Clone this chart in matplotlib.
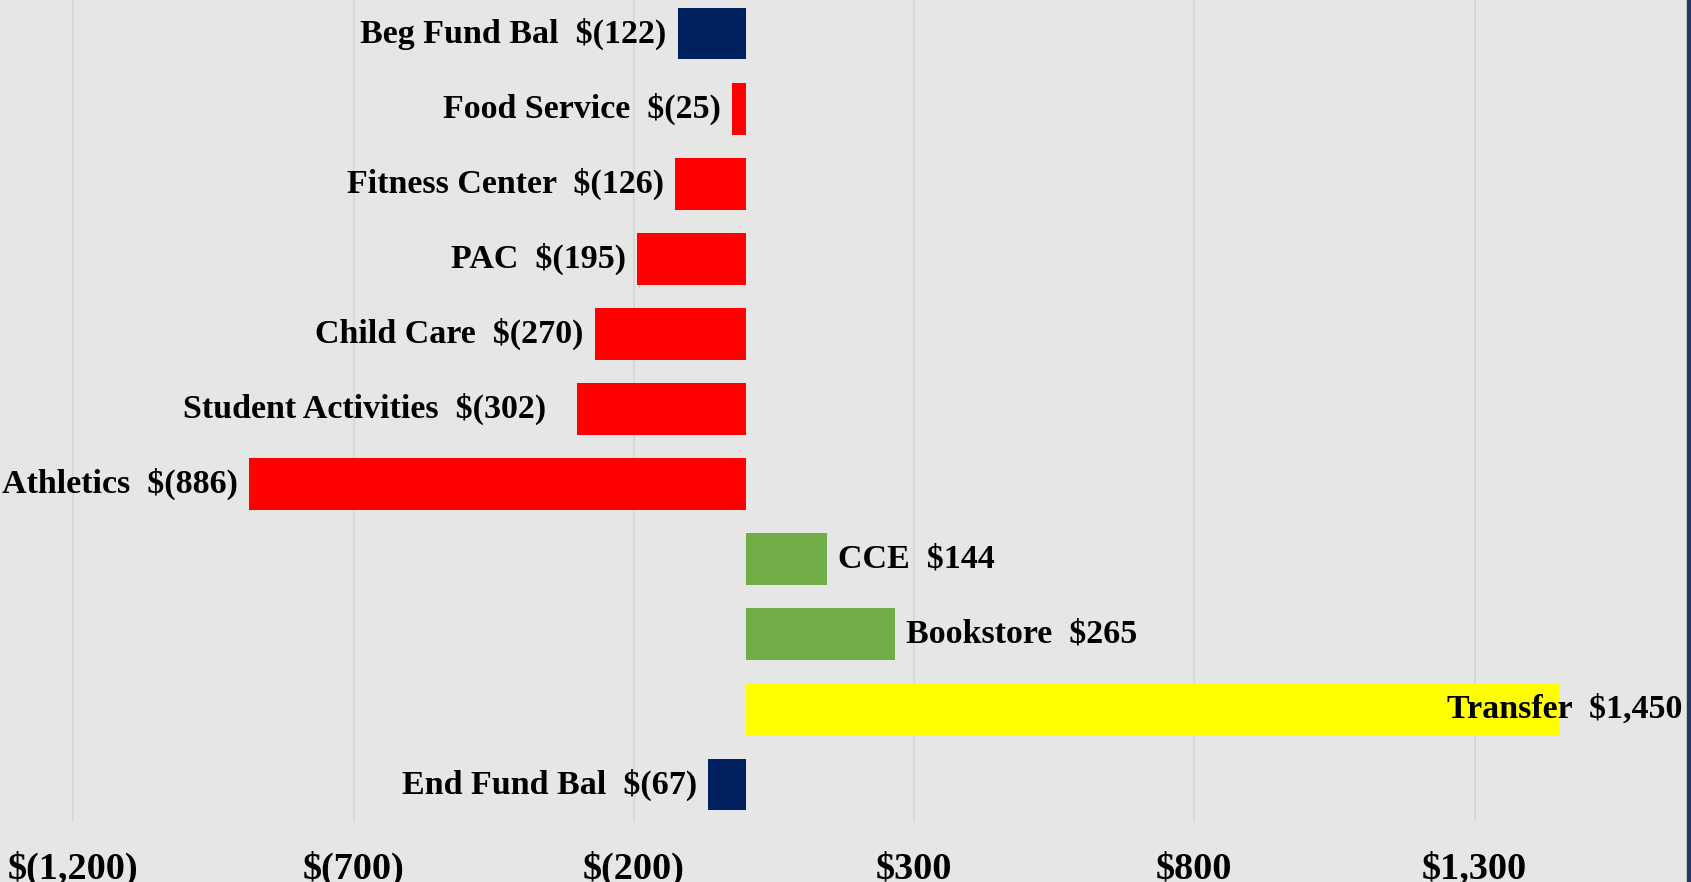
import matplotlib.pyplot as plt
import matplotlib.ticker as mticker
from matplotlib.patches import Rectangle
import numpy as np

# valeurs en milliers de dollars
categories = ['Beg Fund Bal', 'Food Service', 'Fitness Center', 'PAC', 'Child Care',
              'Student Activities', 'Athletics', 'CCE', 'Bookstore', 'Transfer', 'End Fund Bal']
values = [-122, -25, -126, -195, -270, -302, -886, 144, 265, 1450, -67]
colors = ['#002060', '#ff0000', '#ff0000', '#ff0000', '#ff0000', '#ff0000', '#ff0000',
          '#70ad47', '#70ad47', '#ffff00', '#002060']
xticks = [-1200, -700, -200, 300, 800, 1300]


def money(v):
    if v < 0:
        return '$({:,})'.format(-v)
    return '${:,}'.format(v)


plt.rcParams['font.family'] = ['Liberation Serif', 'DejaVu Serif']
plt.rcParams['font.weight'] = 'bold'

fig = plt.figure(figsize=(16.91, 8.82), dpi=100)
fig.patch.set_facecolor('#e6e6e6')
ax = fig.add_axes([0, 60 / 882, 1687 / 1691, 826 / 882])
ax.set_facecolor('#e6e6e6')

y = np.arange(len(categories))
ax.barh(y, values, height=0.69, color=colors, linewidth=0, zorder=2)

ax.set_xlim(-1331, 1679)
ax.set_ylim(len(categories) - 0.5, -0.5)
ax.set_xticks(xticks)
ax.xaxis.set_major_formatter(mticker.FuncFormatter(lambda v, p: money(int(v))))
ax.tick_params(axis='x', length=0, pad=21, labelsize=27.5)
ax.set_yticks([])
ax.grid(axis='x', color='#d6d6d6', linewidth=1.2, zorder=0)
for s in ax.spines.values():
    s.set_visible(False)

for i, (name, v) in enumerate(zip(categories, values)):
    txt = name + '  ' + money(v)
    if name == 'Transfer':
        # le texte déborde sur la barre, collé au bord droit
        ax.annotate(txt, (ax.get_xlim()[1], i), xytext=(-3, 0), textcoords='offset points',
                    ha='right', va='center', fontsize=24.5, fontweight='bold', zorder=3)
    elif v < 0:
        gap = -22 if name == 'Student Activities' else -8
        ax.annotate(txt, (v, i), xytext=(gap, 0), textcoords='offset points',
                    ha='right', va='center', fontsize=24.5, fontweight='bold', zorder=3)
    else:
        ax.annotate(txt, (v, i), xytext=(8, 0), textcoords='offset points',
                    ha='left', va='center', fontsize=24.5, fontweight='bold', zorder=3)

# bande bleu foncé sur le bord droit
fig.patches.append(Rectangle((1687 / 1691, 0), 4 / 1691, 1, transform=fig.transFigure,
                             color='#1f3864', zorder=5))

fig.savefig('out.png', dpi=100, facecolor=fig.get_facecolor())
